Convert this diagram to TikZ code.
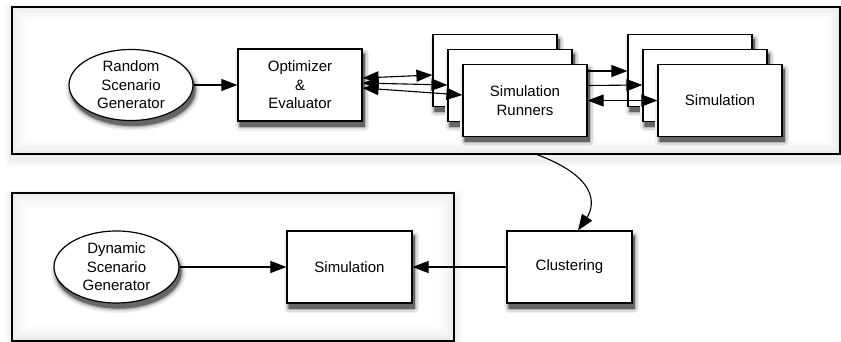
\documentclass[tikz,border=0pt]{standalone}
\usepackage{fontspec}
\setmainfont{Liberation Sans}
\usetikzlibrary{shapes.geometric,arrows.meta,calc}
\pgfdeclarelayer{framelayer}
\pgfsetlayers{framelayer,main}
% shadow of a box: centre x, centre y, width, height (picture units, y downward)
\newcommand\myrectshadow[4]{%
  \foreach \c/\w in {6/10pt,14/7pt,28/4pt,45/1.8pt,60/0.4pt}{%
    \filldraw[black!\c, line width=\w, line join=round]
      ({#1-#3/2+2},{#2-#4/2+5}) rectangle ({#1+#3/2+2},{#2+#4/2+5});}}
\newcommand\myellshadow[4]{%
  \foreach \c/\w in {6/10pt,14/7pt,28/4pt,45/1.8pt,60/0.4pt}{%
    \filldraw[black!\c, line width=\w]
      ({#1+2},{#2+5}) ellipse [x radius=#3, y radius=#4];}}
\newcommand\myframeinner[1]{%
  \foreach \c/\d in {7/1pt,5/4pt,3.5/7pt,2/10pt,1/13pt,0/16pt}{%
    \fill[black!\c]
      ([shift={(\d,-\d)}]#1.north west) rectangle ([shift={(-\d,\d)}]#1.south east);}}
\begin{document}
\begin{tikzpicture}[x=1pt,y=-1pt,
  every node/.style={font=\fontsize{15}{18.5}\selectfont, align=center},
  frame/.style={draw, line width=1.2pt, inner sep=0pt},
  box/.style={draw, line width=1.2pt, fill=white, minimum width=124pt,
    minimum height=72pt, inner sep=0pt},
  oval/.style={ellipse, draw, line width=1.2pt, fill=white, minimum width=124pt,
    minimum height=71pt, inner sep=0pt},
  tip/.tip={Triangle[length=16pt,width=12pt]},
  arr/.style={line width=1.1pt, -tip},
  darr/.style={line width=1.1pt, tip-tip}
]
\useasboundingbox (0,0) rectangle (841,342);

% frames
\node[frame, minimum width=828pt, minimum height=147pt] (top) at (426,80.5) {};
\node[frame, minimum width=442pt, minimum height=148pt] (bot) at (233,267) {};
\begin{pgfonlayer}{framelayer}
  \foreach \c/\w in {3/12pt,6/6pt}{%
    \filldraw[black!\c, line width=\w]
      ([shift={(1pt,-5pt)}]top.south west) rectangle ([shift={(1pt,-5pt)}]top.north east);
    \filldraw[black!\c, line width=\w]
      ([shift={(1pt,-5pt)}]bot.south west) rectangle ([shift={(1pt,-5pt)}]bot.north east);}
  \myframeinner{top}
  \myframeinner{bot}
\end{pgfonlayer}

% top row
\myellshadow{131}{85}{62}{35.5}
\node[oval] (rsg) at (131,85) {Random\\Scenario\\Generator};
\myrectshadow{300}{85}{124}{72}
\node[box] (opt) at (300,85) {Optimizer\\\&\\Evaluator};

\myrectshadow{495}{70.5}{124}{72}
\node[box] (rb) at (495,70.5) {};
\myrectshadow{510}{85.5}{124}{72}
\node[box] (rm) at (510,85.5) {};
\myrectshadow{525}{100.5}{124}{72}
\node[box] (rf) at (525,100.5) {Simulation\\Runners};

\myrectshadow{690}{70.5}{124}{72}
\node[box] (sb) at (690,70.5) {};
\myrectshadow{705}{85.5}{124}{72}
\node[box] (sm) at (705,85.5) {};
\myrectshadow{720}{100.5}{124}{72}
\node[box] (sf) at (720,100.5) {Simulation};

% bottom row
\myellshadow{116.5}{267}{62.5}{36}
\node[oval, minimum width=125pt, minimum height=72pt] (dsg) at (116.5,267) {Dynamic\\Scenario\\Generator};
\myrectshadow{349.5}{267}{125}{72}
\node[box, minimum width=125pt] (sim) at (349.5,267) {Simulation};
\myrectshadow{569.5}{267}{125}{72}
\node[box, minimum width=125pt] (clu) at (569.5,267) {Clustering};

% connectors
\draw[arr] (rsg) -- (opt);
\draw[darr] ([yshift=7pt]opt.east) -- ([yshift=-4.5pt]rb.west);
\draw[darr] ([yshift=2pt]opt.east) -- ([yshift=0.5pt]rm.west);
\draw[darr] ([yshift=-3pt]opt.east) -- ([yshift=5.5pt]rf.west);

\draw[arr] ([yshift=29.5pt]rf.east) -- ([yshift=-0.5pt]sb.west);
\draw[arr] ([yshift=15pt]rf.east) -- ([yshift=0.5pt]sm.west);
\draw[darr] (rf.east) -- (sf.west);

\coordinate (cstart) at ([xshift=111pt]top.south);
\draw[arr] (cstart) .. controls (605,180) and (592,210) .. ([xshift=8.5pt]clu.north);

\draw[arr] (dsg) -- (sim);
\draw[arr] (clu) -- (sim);
\end{tikzpicture}
\end{document}
